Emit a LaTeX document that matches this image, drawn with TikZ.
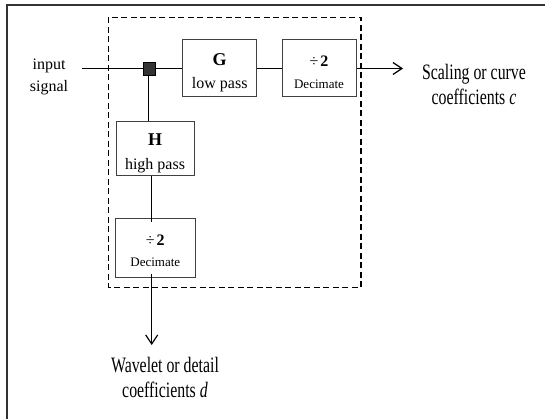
\documentclass[tikz,border=0pt]{standalone}
\usepackage{fontspec}
\setmainfont{Liberation Serif}
\newfontfamily\narrowserif{Liberation Serif}[FakeStretch=0.72]
\usetikzlibrary{arrows.meta}

\tikzset{
  block/.style={draw=black!75, line width=1pt, fill=white, align=center,
                inner sep=0pt},
  wire/.style={line width=1.2pt, black},
  outwire/.style={wire, -{Straight Barb[length=9pt,width=12pt,line width=1.2pt]}},
  group/.style={line width=1.1pt, dash pattern=on 6pt off 3.5pt},
  frame/.style={line width=2pt, black!80},
  txt/.style={align=center, inner sep=0pt},
}
% invisible strut that lowers the text block inside a box
\newcommand{\toppad}[1]{\rule{0pt}{#1}}

\begin{document}
\begin{tikzpicture}[x=1pt,y=-1pt]
  \useasboundingbox (0,0) rectangle (545,419);
  \fill[white] (0,0) rectangle (545,419);

  % outer frame (left and top edges)
  \draw[frame] (7,419) -- (7,5.5) -- (545,5.5);

  % dashed analysis stage
  \draw[group] (108.7,17.3) rectangle (361,287.3);

  % filter and decimation blocks
  \node[block, minimum width=74pt, minimum height=57pt,
        font=\fontsize{16}{23}\selectfont] (G) at (219.7,68.5)
        {\toppad{21pt}{\fontsize{18}{23}\selectfont\bfseries G}\\ low pass};
  \node[block, minimum width=74pt, minimum height=57pt,
        font=\fontsize{13}{22}\selectfont] (D1) at (319,68.5)
        {\toppad{19pt}{\fontsize{16}{22}\selectfont ÷\hspace{2pt}\bfseries 2}\\ Decimate};
  \node[block, minimum width=78pt, minimum height=54pt,
        font=\fontsize{16}{24}\selectfont] (H) at (155,149)
        {\toppad{21pt}{\fontsize{18}{24}\selectfont\bfseries H}\\ high pass};
  \node[block, minimum width=80pt, minimum height=58pt,
        font=\fontsize{13}{21}\selectfont] (D2) at (155.3,248)
        {\toppad{16pt}{\fontsize{16}{21}\selectfont ÷\hspace{2pt}\bfseries 2}\\ Decimate};

  % branch point
  \node[draw=black, line width=0.8pt, fill=black!80, minimum width=12pt,
        minimum height=13pt, inner sep=0pt] (J) at (149,68.5) {};

  % labels
  \node[txt, font=\fontsize{16}{22}\selectfont] (lblIn) at (49,77)
        {input\\signal};
  \node[txt, font=\narrowserif\fontsize{22}{25}\selectfont] (lblC) at (474,84)
        {Scaling or curve\\coefficients \textit{c}};
  \node[txt, font=\narrowserif\fontsize{22}{25}\selectfont] (lblD) at (165,377)
        {Wavelet or detail\\coefficients \textit{d}};

  % free connector ends
  \coordinate (src) at (82,68.5);
  \coordinate (cEnd) at (403,68.5);
  \coordinate (dEnd) at (151.7,345);

  % connectors
  \draw[wire] (src) -- (J.west);
  \draw[wire] (J.east) -- (G.west);
  \draw[wire] (G.east) -- (D1.west);
  \draw[outwire] (D1.east) -- (cEnd);
  \draw[wire] ([xshift=-0.7pt]J.south) -- ([xshift=-0.7pt]J.south |- H.north);
  \draw[wire] (dEnd |- H.south) -- ([yshift=-4pt]dEnd |- D2.north);
  \draw[outwire] ([yshift=4pt]dEnd |- D2.south) -- (dEnd);
\end{tikzpicture}
\end{document}
